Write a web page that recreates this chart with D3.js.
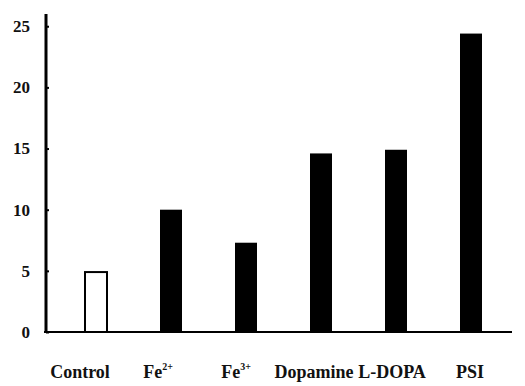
<!doctype html>
<html>
<head>
<meta charset="UTF-8">
<script src="https://cdn.jsdelivr.net/npm/d3@7"></script>
</head>
<body style="margin:0;background:#fff">
<script>
// values
var categories = ["Control", "Fe2+", "Fe3+", "Dopamine", "L-DOPA", "PSI"];
var values = [4.9, 10.0, 7.3, 14.6, 14.9, 24.4];
var hollow = [true, false, false, false, false, false];
var yTicks = [0, 5, 10, 15, 20, 25];

var w = 525, h = 386;
var svg = d3.select("body").append("svg").attr("width", w).attr("height", h);

var x = d3.scalePoint().domain(categories).range([96, 471]);
var xLab = d3.scalePoint().domain(categories).range([80, 470]); // labels are spread a bit differently
var y = d3.scaleLinear().domain([0, 26]).range([332, 14]);
var barW = 22;

// baseline
svg.append("line")
  .attr("x1", 44).attr("x2", 512)
  .attr("y1", y(0)).attr("y2", y(0))
  .attr("stroke", "#000").attr("stroke-width", 2);

// y axis
var yAxis = d3.axisLeft(y).tickValues(yTicks).tickSize(0).tickPadding(16);
var gy = svg.append("g").attr("transform", "translate(46,0)").call(yAxis);
gy.select(".domain").attr("stroke", "#000").attr("stroke-width", 3)
  .attr("d", "M0," + y(26) + "V" + y(0));
gy.selectAll(".tick text")
  .style("font-family", "Liberation Serif")
  .style("font-weight", "bold")
  .style("font-size", "17px")
  .attr("fill", "#111");
gy.selectAll(".tick").append("line").attr("x2", 3).attr("stroke", "#000").attr("stroke-width", 2);

// bars
svg.selectAll("rect.bar")
  .data(categories)
  .enter().append("rect").attr("class", "bar")
  .attr("x", function(d) { return x(d) - barW / 2; })
  .attr("y", function(d, i) { return y(values[i]); })
  .attr("width", barW)
  .attr("height", function(d, i) { return y(0) - y(values[i]); })
  .attr("fill", function(d, i) { return hollow[i] ? "#fff" : "#000"; })
  .attr("stroke", "#000")
  .attr("stroke-width", function(d, i) { return hollow[i] ? 2 : 0; });

// category labels (with superscripts)
var labels = svg.selectAll("text.cat")
  .data(categories)
  .enter().append("text").attr("class", "cat")
  .attr("x", function(d) { return xLab(d); })
  .attr("y", 378)
  .attr("text-anchor", "middle")
  .attr("fill", "#111")
  .style("font-family", "Liberation Serif")
  .style("font-weight", "bold")
  .style("font-size", "18px");
labels.each(function(d) {
  var t = d3.select(this);
  var m = d.match(/^(Fe)(\d\+)$/);
  if (m) {
    t.append("tspan").text(m[1]);
    t.append("tspan").attr("dy", -8).style("font-size", "10px").text(m[2]);
  } else {
    t.text(d);
  }
});
</script>
</body>
</html>
